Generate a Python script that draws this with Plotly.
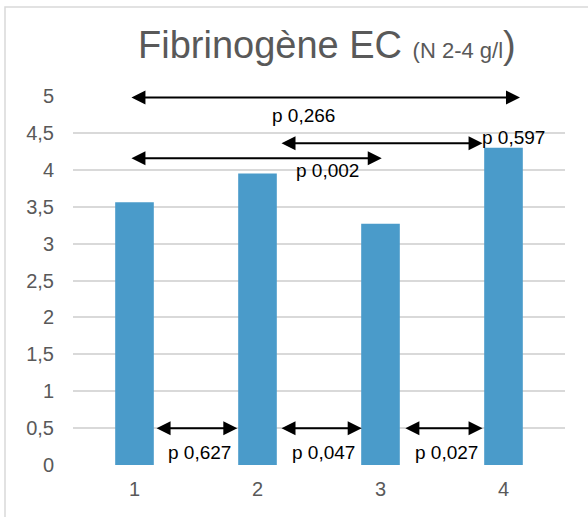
import plotly.graph_objects as go

categories = ["1", "2", "3", "4"]
values = [3.56, 3.95, 3.27, 4.30]
y_ticks = [0, 0.5, 1, 1.5, 2, 2.5, 3, 3.5, 4, 4.5, 5]
y_tick_labels = ["0", "0,5", "1", "1,5", "2", "2,5", "3", "3,5", "4", "4,5", "5"]

# comparison arrows: (x start, x end, y level) and their p-value labels
arrow_x0 = [0.963, 0.963, 2.183, 1.167, 2.183, 3.19]
arrow_x1 = [4.134, 3.01, 3.83, 1.836, 2.847, 3.83]
arrow_y = [4.98, 4.156, 4.36, 0.497, 0.497, 0.497]
p_labels = ["p 0,266", "p 0,002", "p 0,597", "p 0,627", "p 0,047", "p 0,027"]
label_x = [2.37, 2.565, 4.08, 1.53, 2.54, 3.536]
label_y = [4.74, 3.99, 4.435, 0.167, 0.167, 0.167]

FONT = "Liberation Sans, Arial, sans-serif"
GREY = "#595959"

fig = go.Figure()
fig.add_trace(go.Bar(
    x=[1, 2, 3, 4], y=values,
    marker=dict(color="#4A9BCA", line=dict(width=0)),
    width=0.314,
    hoverinfo="skip",
))

annotations = []
for x0, x1, y in zip(arrow_x0, arrow_x1, arrow_y):
    annotations.append(dict(
        x=x1, y=y, ax=x0, ay=y, xref="x", yref="y", axref="x", ayref="y",
        showarrow=True, arrowhead=2, startarrowhead=2, arrowside="end+start",
        arrowwidth=2, arrowsize=1.4, startarrowsize=1.4, arrowcolor="black", text="",
    ))
for t, lx, ly in zip(p_labels, label_x, label_y):
    annotations.append(dict(
        x=lx, y=ly, xref="x", yref="y", text=t, showarrow=False,
        font=dict(family=FONT, size=19, color="black"),
    ))
annotations.append(dict(
    x=(327 - 73) / 492, y=(465 - 45) / 369, xref="paper", yref="paper",
    text="Fibrinogène EC <span style='font-size:22px'>(N 2-4 g/l</span>)",
    showarrow=False, font=dict(family=FONT, size=38, color=GREY),
    xanchor="center", yanchor="middle",
))

fig.update_layout(
    width=588, height=517,
    margin=dict(l=73, r=23, t=96, b=52),
    paper_bgcolor="white", plot_bgcolor="white",
    showlegend=False,
    annotations=annotations,
    xaxis=dict(
        range=[0.5, 4.5], tickmode="array", tickvals=[1, 2, 3, 4], ticktext=categories,
        showgrid=False, zeroline=False, showline=False, ticks="",
        tickfont=dict(family=FONT, size=20, color=GREY), ticklabelstandoff=10,
    ),
    yaxis=dict(
        range=[0, 5], tickmode="array", tickvals=y_ticks, ticktext=y_tick_labels,
        showgrid=True, gridcolor="#d9d9d9", gridwidth=1.5, zeroline=False, showline=False,
        ticks="", tickfont=dict(family=FONT, size=20, color=GREY), ticklabelstandoff=18,
    ),
    shapes=[dict(
        type="rect", xref="paper", yref="paper",
        x0=(5 - 73) / 492, x1=1.2, y0=-0.3, y1=(465 - 7) / 369,
        line=dict(color="#d9d9d9", width=1.5), layer="below",
    )],
)

fig.write_html("out.html", config={"displayModeBar": False},
               post_script="document.body.style.margin='0';")
